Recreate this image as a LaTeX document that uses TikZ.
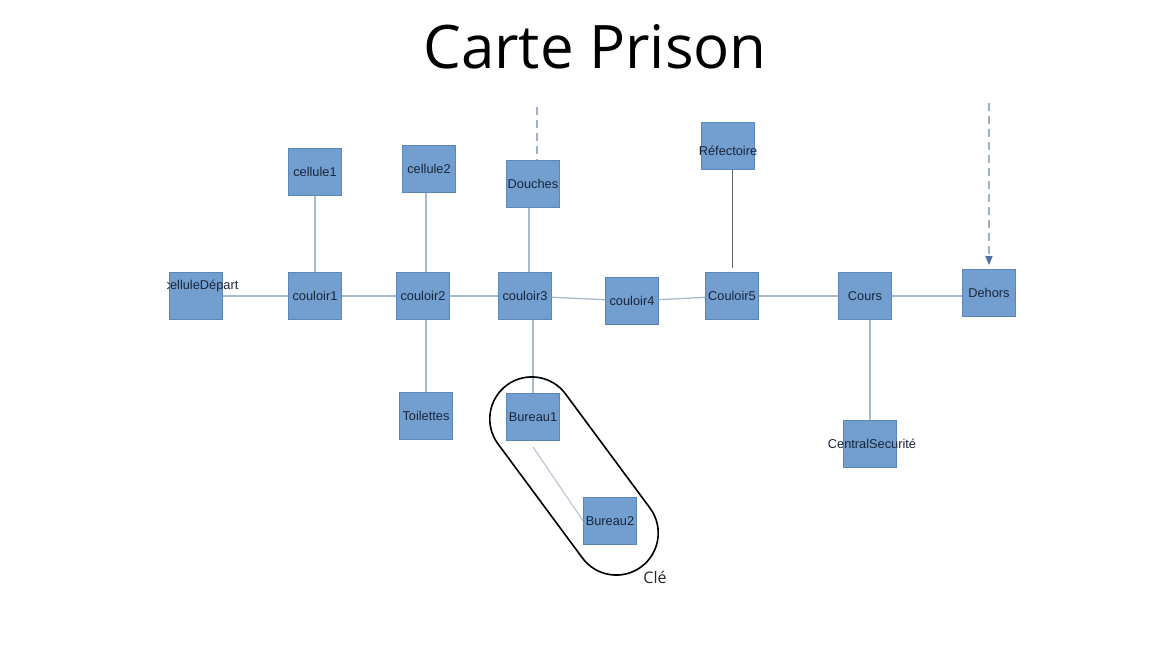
\documentclass[tikz,border=0pt]{standalone}
\usepackage{fontspec}
\setmainfont{Liberation Sans}
\newfontfamily\titlefont{Open Sans}
\usetikzlibrary{positioning,arrows.meta}
\definecolor{boxfill}{HTML}{729FCF}
\definecolor{boxline}{HTML}{5A86B8}
\definecolor{labeltext}{HTML}{1A253A}
\definecolor{linkcol}{HTML}{A7BACE}
\definecolor{darklink}{HTML}{5E6873}
\definecolor{dashcol}{HTML}{9DB1C7}
\definecolor{tipcol}{HTML}{4A72A6}
\tikzset{
  salle/.style={draw=boxline, fill=boxfill, line width=0.8pt, minimum width=53pt, minimum height=47pt, inner sep=0pt, font=\fontsize{12.8}{14}\selectfont, text=labeltext},
  debord/.style={font=\fontsize{12.8}{14}\selectfont, text=labeltext},
  lien/.style={draw=linkcol, line width=1.3pt},
  lienfonce/.style={draw=darklink, line width=1pt},
  pointille/.style={draw=dashcol, line width=1.3pt, dash pattern=on 8pt off 5pt},
  zonecle/.style={draw=black, line width=1.6pt, minimum width=226pt, minimum height=84pt, rounded corners=42pt},
  titre/.style={font=\titlefont\fontsize{60}{70}\selectfont, text=black}
}
\begin{document}
\begin{tikzpicture}[x=1pt, y=-1pt]
        \useasboundingbox (0,0) rectangle (1176,652);
        \node[titre] (titre) at (595,47) {Carte Prison};

        % Rooms along the corridor
        \begin{scope}
          \clip (167,200) rectangle (260,340);
          \node[salle, label={[debord, xshift=5pt, yshift=10pt]center:celluleDépart}] (depart) at (196,296) {};
        \end{scope}
        \node[salle] (couloir1) at (315,296) {couloir1};
        \node[salle] (couloir2) at (423,296) {couloir2};
        \node[salle] (couloir3) at (525,296) {couloir3};
        \node[salle] (couloir4) at (632,301) {couloir4};
        \node[salle] (couloir5) at (732,296) {Couloir5};
        \node[salle] (cours) at (865,296) {Cours};
        \node[salle] (dehors) at (989,293) {Dehors};

        % Rooms above and below
        \node[salle] (cellule1) at (315,172) {cellule1};
        \node[salle] (cellule2) at (429,169) {cellule2};
        \node[salle] (toilettes) at (426,416) {Toilettes};
        \node[salle] (douches) at (533,184) {Douches};
        \node[salle] (bureau1) at (533,417) {Bureau1};
        \node[salle] (bureau2) at (610,521) {Bureau2};
        \node[salle, label={[debord, yshift=-5pt]center:Réfectoire}] (refectoire) at (728,146) {};
        \node[salle, label={[debord, xshift=2pt]center:CentralSecurité}] (central) at (870,444) {};

        % Corridor links
        \draw[lien] (depart) -- (couloir1);
        \draw[lien] (couloir1) -- (couloir2);
        \draw[lien] (couloir2) -- (couloir3);
        \draw[lien] (couloir3) -- (couloir4);
        \draw[lien] (couloir4) -- (couloir5);
        \draw[lien] (couloir5) -- (cours);
        \draw[lien] (cours) -- (cours -| dehors.west);

        \draw[lien] (cellule1) -- (couloir1);
        \draw[lien] (cellule2.south -| toilettes) -- (couloir2.north -| toilettes);
        \draw[lien] (couloir2.south -| toilettes) -- (toilettes);
        \draw[lien] ([xshift=-4pt]douches.south) -- ([xshift=-4pt]douches.south |- couloir3.north);
        \draw[lien] (bureau1.north |- couloir3.south) -- (bureau1.north);
        \draw[lien, line width=0.9pt] ([yshift=-6pt]bureau1.south) -- (bureau2.west);
        \draw[lienfonce] (couloir5.north |- refectoire.south) -- ([yshift=4pt]couloir5.north);
        \draw[lien] (cours.south -| central) -- (central);

        % Dashed entries
        \coordinate (douchesHaut) at (537,107);
        \coordinate (dehorsHaut) at (989,103);
        \draw[pointille] (douchesHaut) -- (douchesHaut |- douches.north);
        \draw[pointille, -{Triangle[length=9pt, width=7pt, color=tipcol]}] (dehorsHaut) -- ([yshift=4pt]dehors.north);

        % Key zone
        \node[zonecle, rotate=-53.5] (zoneCle) at (574,476) {};
        \node[font=\titlefont\fontsize{16}{18}\selectfont, text=black!85] (cle) at (655,577) {Clé};
\end{tikzpicture}
\end{document}
